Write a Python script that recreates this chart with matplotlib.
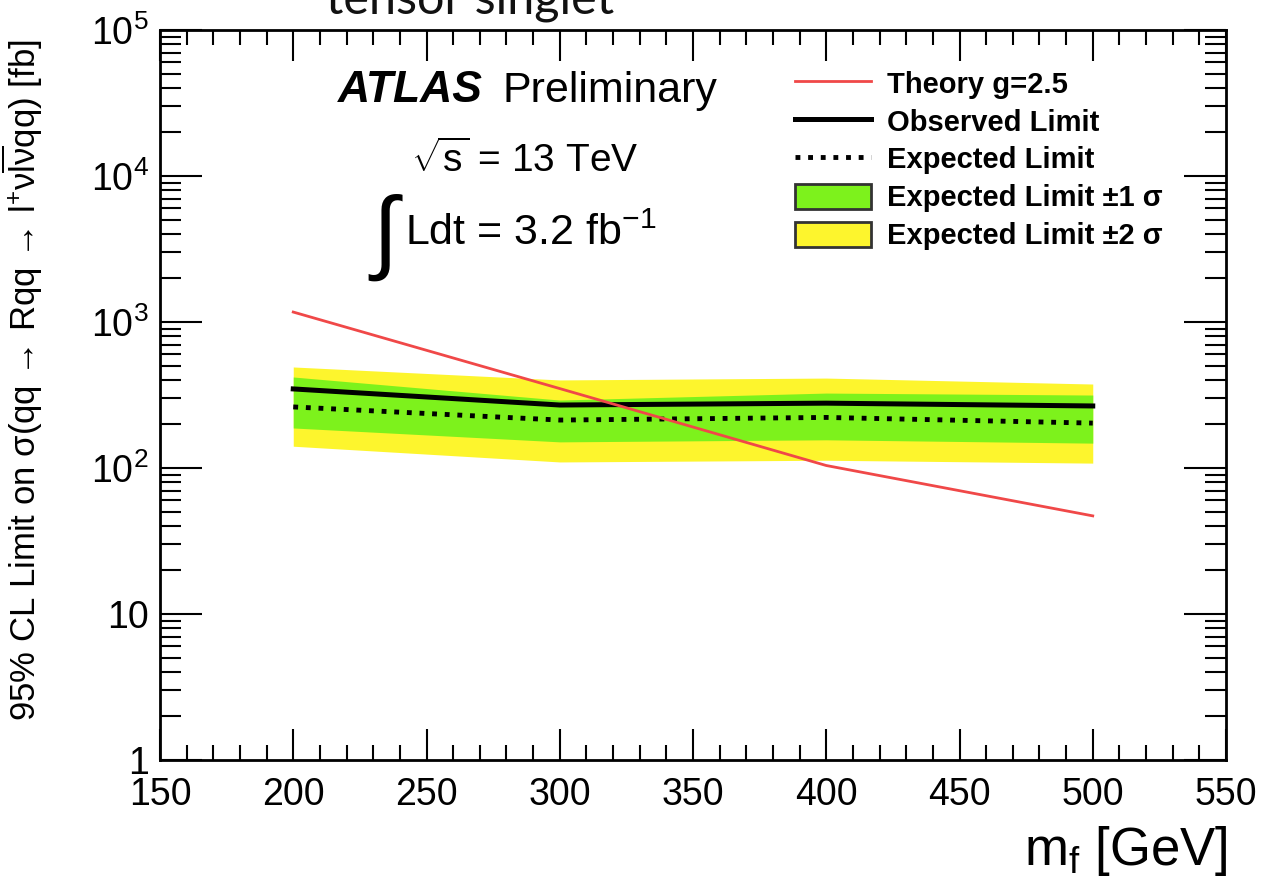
import numpy as np
import matplotlib
matplotlib.use("Agg")
import matplotlib.pyplot as plt
from matplotlib.lines import Line2D
from matplotlib.patches import Patch
from matplotlib.ticker import FixedLocator, FixedFormatter, LogLocator, NullFormatter, MultipleLocator

# =========================
# Data
# =========================
mass = [200, 300, 400, 500]
theory = [1170, 350, 104, 47]
observed = [348, 270, 278, 266]
expected = [262, 213, 222, 203]
band1_lo = [188, 151, 156, 148]
band1_hi = [420, 292, 326, 316]
band2_lo = [141, 110, 113, 108]
band2_hi = [492, 401, 413, 376]

ytick_vals = [1, 10, 100, 1000, 10000, 100000]
ytick_labels = ["1", "10", r"$\mathregular{10^{2}}$", r"$\mathregular{10^{3}}$",
                r"$\mathregular{10^{4}}$", r"$\mathregular{10^{5}}$"]

YELLOW = "#fdf52d"
GREEN = "#7df21c"
RED = "#f04848"

plt.rcParams["font.family"] = ["Liberation Sans", "DejaVu Sans"]
plt.rcParams["mathtext.fontset"] = "custom"
plt.rcParams["mathtext.rm"] = "Liberation Sans"
plt.rcParams["mathtext.it"] = "Liberation Sans:italic"
plt.rcParams["mathtext.bf"] = "Liberation Sans:bold"


def main():
    W, H = 1275, 877
    fig = plt.figure(figsize=(W / 100, H / 100), dpi=100)
    ax = fig.add_axes([160 / W, 1 - 760 / H, (1226 - 160) / W, (760 - 30) / H])

    # bands and lines
    ax.fill_between(mass, band2_lo, band2_hi, color=YELLOW, lw=0, zorder=1)
    ax.fill_between(mass, band1_lo, band1_hi, color=GREEN, lw=0, zorder=2)
    ax.plot(mass, expected, color="black", lw=3.5, ls=(0, (1, 1.6)), zorder=3)
    ax.plot(mass, observed, color="black", lw=3.6, zorder=4)
    ax.plot(mass, theory, color=RED, lw=2.0, zorder=5)

    ax.set_xlim(150, 550)
    ax.set_yscale("log")
    ax.set_ylim(1, 1e5)

    # ROOT-like ticks
    ax.xaxis.set_major_locator(MultipleLocator(50))
    ax.xaxis.set_minor_locator(MultipleLocator(10))
    ax.yaxis.set_major_locator(FixedLocator(ytick_vals))
    ax.yaxis.set_major_formatter(FixedFormatter(ytick_labels))
    ax.yaxis.set_minor_locator(LogLocator(base=10, subs=np.arange(2, 10)))
    ax.yaxis.set_minor_formatter(NullFormatter())
    ax.tick_params(which="both", direction="in", top=True, right=True, width=1.5)
    ax.tick_params(which="major", axis="x", length=22, labelsize=27, pad=12)
    ax.tick_params(which="minor", axis="x", length=11)
    ax.tick_params(which="major", axis="y", length=30, labelsize=27, pad=8)
    ax.tick_params(which="minor", axis="y", length=15)
    for s in ax.spines.values():
        s.set_linewidth(2)

    ax.set_ylabel("95% CL Limit on σ(qq → Rqq → l$^{+}$ν$\\overline{\\mathregular{lν}}$qq) [fb]",
                  fontsize=25)
    ax.yaxis.set_label_coords(-115 / (1226 - 160), 0.52)
    fig.text(1228 / W, 1 - 865 / H, r"m$_{\mathregular{f}}$ [GeV]", fontsize=38,
             ha="right", va="baseline")

    # ATLAS labels
    fig.text(338 / W, 1 - 102 / H, "ATLAS", fontsize=32, fontweight="bold",
             fontstyle="italic", va="baseline")
    fig.text(503 / W, 1 - 102 / H, "Preliminary", fontsize=31, va="baseline")
    fig.text(525 / W, 1 - 172 / H, r"$\sqrt{\mathregular{s}}$ = 13 TeV", fontsize=28,
             ha="center", va="baseline")
    fig.text(386 / W, 1 - 238 / H, r"$\int$", fontsize=66, ha="center", va="center",
             family="DejaVu Sans")
    fig.text(405 / W, 1 - 245 / H, r"Ldt = 3.2 fb$^{\mathregular{-1}}$", fontsize=31,
             va="baseline")

    # cropped title at the very top
    fig.text(470 / W, 1 - 13 / H, "tensor singlet", fontsize=35, ha="center",
             va="baseline", family="Lato", color="#111111")

    # legend
    handles = [
        Line2D([], [], color=RED, lw=2.0),
        Line2D([], [], color="black", lw=3.6),
        Line2D([], [], color="black", lw=3.5, ls=(0, (1, 1.6))),
        Patch(facecolor=GREEN, edgecolor="#333333", lw=2),
        Patch(facecolor=YELLOW, edgecolor="#333333", lw=2),
    ]
    labels = ["Theory g=2.5", "Observed Limit", "Expected Limit",
              "Expected Limit ±1 σ", "Expected Limit ±2 σ"]
    fig.legend(handles, labels, loc="upper left", bbox_to_anchor=(795 / W, 1 - 70 / H),
               frameon=False, prop={"size": 21, "weight": "bold"},
               handlelength=2.6, handleheight=0.95, handletextpad=0.55,
               labelspacing=0.32, borderaxespad=0, borderpad=0)

    fig.savefig("out.png", dpi=100)


if __name__ == "__main__":
    main()
